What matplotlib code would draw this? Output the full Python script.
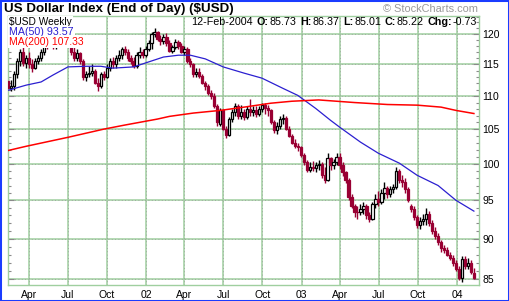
import numpy as np
import pandas as pd
import matplotlib
matplotlib.use("Agg")
import matplotlib.pyplot as plt
import matplotlib.dates as mdates
from matplotlib.ticker import FixedLocator, NullFormatter, FuncFormatter
from matplotlib.patches import Rectangle

plt.rcParams['font.family'] = ['Liberation Sans', 'DejaVu Sans']

# ---------------- data (weekly OHLC, $USD, Feb-2001 .. Feb-2004) ----------------
opens = [112.3, 111.3, 111.5, 113.5, 115.5, 117.0, 115.2, 116.0, 115.0, 114.5,
         115.5, 116.0, 117.0, 118.5, 118.2, 119.0, 118.0, 119.5, 119.0, 120.0,
         120.5, 119.5, 117.0, 116.0, 116.8, 115.5, 113.0, 113.5, 113.6, 114.0,
         112.0, 111.5, 113.5, 113.0, 114.5, 115.5, 115.0, 116.0, 116.5, 117.5,
         117.0, 116.0, 115.5, 114.8, 116.5, 117.0, 116.5, 117.5, 118.5, 120.0,
         120.3, 119.2, 118.8, 119.5, 118.5, 117.2, 117.8, 118.6, 118.0, 117.0,
         117.5, 115.5, 115.0, 113.5, 113.8, 113.2, 112.0, 111.5, 110.5, 110.0,
         108.5, 105.8, 107.8, 105.0, 104.2, 106.5, 107.5, 108.5, 107.0, 107.6,
         106.8, 108.0, 107.5, 107.8, 107.3, 108.0, 108.6, 108.2, 107.8, 106.0,
         104.8, 105.5, 106.5, 106.6, 105.0, 104.0, 103.0, 102.5, 102.4, 101.2,
         100.2, 99.2, 99.6, 99.4, 99.8, 100.0, 98.5, 97.8, 100.8, 99.8,
         100.3, 101.0, 99.8, 98.8, 97.8, 95.5, 94.2, 93.5, 93.4, 93.8,
         94.2, 93.0, 92.6, 94.5, 95.2, 94.8, 96.0, 96.6, 95.8, 96.5,
         96.8, 99.0, 97.8, 97.5, 96.5, 94.2, 93.8, 92.8, 91.8, 92.3,
         92.5, 93.2, 92.0, 91.0, 90.4, 89.6, 88.8, 88.6, 88.0, 87.6,
         87.0, 86.3, 85.2, 87.5, 86.6, 87.0, 85.73]
highs = [112.8, 112.5, 114.0, 116.0, 117.5, 117.8, 116.5, 117.0, 115.8, 116.0,
         116.5, 117.5, 118.8, 119.0, 119.5, 119.5, 120.0, 120.2, 120.5, 121.0,
         121.2, 119.8, 117.8, 117.5, 117.0, 115.8, 114.0, 114.8, 115.0, 114.2,
         112.8, 113.8, 114.0, 115.0, 116.0, 116.2, 116.5, 117.3, 117.8, 118.0,
         117.5, 116.5, 116.2, 117.0, 117.8, 117.5, 118.0, 119.0, 120.3, 121.0,
         120.5, 119.8, 120.0, 120.2, 119.0, 118.2, 119.2, 119.0, 118.5, 118.0,
         117.8, 116.0, 115.3, 114.5, 114.5, 113.5, 112.3, 111.8, 111.0, 110.5,
         108.8, 108.2, 108.0, 105.5, 106.8, 108.0, 109.0, 108.8, 108.6, 108.0,
         108.5, 109.6, 108.4, 108.5, 108.5, 109.0, 109.0, 108.6, 108.0, 106.3,
         106.0, 107.0, 107.2, 107.0, 105.5, 104.3, 103.5, 103.0, 102.6, 101.5,
         100.6, 100.2, 100.4, 100.2, 100.5, 100.2, 99.5, 101.5, 101.0, 100.7,
         101.5, 101.5, 100.2, 99.0, 98.0, 95.8, 94.5, 94.2, 94.5, 94.8,
         94.5, 93.4, 94.8, 95.8, 96.2, 96.5, 97.5, 97.0, 97.0, 97.2,
         99.5, 99.3, 98.4, 98.0, 96.8, 94.5, 94.2, 93.0, 92.8, 93.2,
         94.0, 93.6, 92.4, 91.5, 90.7, 89.9, 89.2, 89.0, 88.3, 88.0,
         87.3, 86.6, 87.8, 87.9, 87.6, 87.3, 86.37]
lows = [111.0, 110.8, 111.0, 112.8, 114.8, 114.8, 114.5, 114.5, 113.8, 114.2,
        115.0, 115.5, 116.5, 117.5, 117.8, 117.6, 117.5, 118.2, 118.5, 119.5,
        118.8, 116.5, 115.5, 115.5, 115.0, 112.5, 112.4, 113.0, 113.2, 111.8,
        110.8, 111.2, 112.5, 112.8, 114.0, 114.5, 114.5, 115.5, 115.8, 116.5,
        115.5, 115.0, 114.5, 114.5, 116.0, 116.0, 116.2, 117.2, 117.6, 119.5,
        118.8, 118.2, 118.3, 118.0, 117.0, 116.8, 117.5, 117.6, 116.8, 116.5,
        115.2, 114.6, 113.0, 113.0, 112.8, 111.8, 111.0, 110.2, 109.5, 108.2,
        105.5, 105.5, 104.8, 103.7, 104.0, 106.0, 107.0, 106.5, 106.5, 106.3,
        106.5, 107.0, 107.0, 106.8, 107.0, 107.5, 107.2, 107.0, 105.8, 104.5,
        104.3, 105.0, 105.8, 104.8, 103.8, 102.8, 102.2, 101.8, 101.0, 99.8,
        98.8, 98.8, 99.0, 98.9, 99.2, 98.0, 97.3, 97.6, 99.2, 99.3,
        99.8, 99.3, 98.3, 97.3, 95.0, 94.0, 92.8, 92.6, 93.0, 93.2,
        92.5, 92.2, 92.4, 94.0, 94.2, 94.5, 95.2, 95.3, 95.5, 96.0,
        96.5, 97.4, 96.8, 96.0, 94.8, 93.4, 92.4, 91.4, 91.3, 91.8,
        91.8, 91.6, 90.6, 90.0, 89.2, 88.4, 88.2, 87.8, 87.4, 86.6,
        86.0, 84.9, 84.7, 86.3, 86.3, 85.7, 85.01]
closes = [111.3, 111.5, 113.5, 115.5, 117.0, 115.2, 116.0, 115.0, 114.5, 115.5,
          116.0, 117.0, 118.5, 118.2, 119.0, 118.0, 119.5, 119.0, 120.0, 120.5,
          119.5, 117.0, 116.0, 116.8, 115.5, 113.0, 113.5, 113.6, 114.0, 112.0,
          111.5, 113.5, 113.0, 114.5, 115.5, 115.0, 116.0, 116.5, 117.5, 117.0,
          116.0, 115.5, 114.8, 116.5, 117.0, 116.5, 117.5, 118.5, 120.0, 120.3,
          119.2, 118.8, 119.5, 118.5, 117.2, 117.8, 118.6, 118.0, 117.0, 117.5,
          115.5, 115.0, 113.5, 113.8, 113.2, 112.0, 111.5, 110.5, 110.0, 108.5,
          106.0, 107.8, 105.0, 104.2, 106.5, 107.5, 108.5, 107.0, 107.6, 106.8,
          108.0, 107.5, 107.8, 107.3, 108.0, 108.6, 108.2, 107.8, 106.0, 104.8,
          105.5, 106.5, 106.6, 105.0, 104.0, 103.0, 102.5, 102.4, 101.2, 100.2,
          99.2, 99.6, 99.4, 99.8, 100.0, 98.5, 97.8, 100.8, 99.8, 100.3,
          101.0, 99.8, 98.8, 97.8, 95.5, 94.2, 93.5, 93.4, 93.8, 94.2,
          93.0, 92.6, 94.5, 95.2, 94.8, 96.0, 96.6, 95.8, 96.5, 96.8,
          99.0, 97.8, 97.5, 96.5, 95.0, 93.8, 92.8, 91.8, 92.3, 92.5,
          93.2, 92.0, 91.0, 90.4, 89.6, 88.8, 88.6, 88.0, 87.6, 87.0,
          86.3, 85.2, 87.5, 86.6, 87.0, 85.95, 85.22]

last_week = "2004-02-09"

# moving averages (week index -> value)
ma50_week = [0, 6, 11, 15, 20, 26, 31, 35, 42, 47, 52, 57, 61, 66, 72, 79, 85,
             92, 97, 103, 108, 111, 118, 124, 131, 137, 144, 150, 156]
ma50_val = [110.9, 111.7, 112.2, 113.3, 114.6, 114.7, 114.7, 114.4, 114.6, 115.4,
            116.2, 116.5, 116.5, 115.9, 114.6, 113.6, 112.8, 111.2, 110.1, 108.1,
            106.3, 105.3, 103.1, 101.5, 100.1, 98.4, 97.0, 95.0, 93.57]
ma200_week = [0, 6, 20, 32, 39, 50, 54, 62, 71, 79, 88, 95, 104, 110, 116, 127,
              137, 145, 150, 156]
ma200_val = [101.9, 102.5, 103.8, 105.0, 105.6, 106.5, 106.9, 107.4, 107.8, 108.3,
             108.9, 109.2, 109.4, 109.2, 109.0, 108.7, 108.6, 108.3, 107.8, 107.33]

y_ticks = [85, 90, 95, 100, 105, 110, 115, 120]
title = "US Dollar Index (End of Day) ($USD)"
header = [("12-Feb-2004", "normal"), ("O:", "bold"), ("85.73", "normal"),
          ("H:", "bold"), ("86.37", "normal"), ("L:", "bold"), ("85.01", "normal"),
          ("C:", "bold"), ("85.22", "normal"), ("Chg:", "bold"), ("-0.73", "normal")]
legend_lines = [("$USD Weekly", "black"), ("MA(50) 93.57", "#2b1fd0"),
                ("MA(200) 107.33", "#ff0000")]

# ---------------- layout ----------------
W, H = 509, 301
fig = plt.figure(figsize=(W / 100, H / 100), dpi=100)
fig.patch.set_facecolor("white")


def fx(px):
    return px / W


def fy(py):
    return 1 - py / H


L_, R_, T_, B_ = 7.5, 479.0, 16.0, 284.5
ax = fig.add_axes([fx(L_), fy(B_), fx(R_) - fx(L_), fy(T_) - fy(B_)])

n = len(closes)
dates = pd.date_range(end=last_week, periods=n, freq="7D")
xd = mdates.date2num(dates)

ref = mdates.date2num(pd.Timestamp("2002-01-01"))
ppd = 0.4264  # pixels per day
ax.set_xlim(ref - (146 - L_) / ppd, ref + (R_ - 146) / ppd)
ax.set_yscale("log")
ax.set_ylim(84.4, 123.1)

GREEN = "#9fcf9f"
DOT = "#9a9a9a"
RED = "#990033"

# grid
xt_dates = pd.date_range("2001-04-01", "2004-01-01", freq="QS-JAN")
for d in mdates.date2num(xt_dates):
    ax.axvline(d, color=GREEN, lw=1.1, zorder=0.5)
    ax.axvline(d, color=DOT, lw=0.6, ls=(0, (1, 3)), zorder=0.6)
for yv in y_ticks:
    ax.axhline(yv, color=GREEN, lw=1.1, zorder=0.5)
    ax.axhline(yv, color=DOT, lw=0.6, ls=(0, (1, 3)), zorder=0.6)

# candles
O = np.array(opens)
Hh = np.array(highs)
Ll = np.array(lows)
C = np.array(closes)
prev = np.concatenate([[O[0]], C[:-1]])
cols = np.where(C < prev, RED, "black")
fills = np.where(C < O, cols, "white")
ax.vlines(xd, Ll, Hh, colors=cols, lw=1.0, zorder=2)
ax.bar(xd, np.maximum(np.abs(C - O), 0.05), bottom=np.minimum(O, C), width=5.4,
       facecolor=fills, edgecolor=cols, linewidth=0.9, align="center", zorder=3)

# moving averages
ax.plot(xd[ma50_week], ma50_val, color="#2b1fd0", lw=0.9, zorder=4)
ax.plot(xd[ma200_week], ma200_val, color="#ff0000", lw=1.1, zorder=4)

# axes styling
for s in ax.spines.values():
    s.set_color(GREEN)
    s.set_linewidth(1.0)
ax.yaxis.set_major_locator(FixedLocator(y_ticks))
ax.yaxis.set_minor_locator(FixedLocator(list(range(85, 124))))
ax.yaxis.set_major_formatter(FuncFormatter(lambda v, p: f"{v:.0f}"))
ax.yaxis.set_minor_formatter(NullFormatter())
ax.tick_params(axis="y", which="both", left=True, right=True, labelleft=False,
               labelright=True, direction="in", color="#8a8a8a", width=0.8)
ax.tick_params(axis="y", which="major", length=4, pad=2.6, labelsize=7.5)
ax.tick_params(axis="y", which="minor", length=2.5)

ax.xaxis.set_major_locator(FixedLocator(mdates.date2num(xt_dates)))
ax.xaxis.set_major_formatter(FuncFormatter(
    lambda v, p: (mdates.num2date(v).strftime("%y") if mdates.num2date(v).month == 1
                  else mdates.num2date(v).strftime("%b"))))
ax.tick_params(axis="x", which="both", length=0, pad=4.2, labelsize=7.5)

# texts
t_title = fig.text(fx(3.5), fy(9.0), title, fontweight="bold", fontsize=10,
                   va="center", ha="left", parse_math=False)
t_copy = fig.text(fx(478), fy(8.6), "\u00a9 StockCharts.com", fontsize=8,
                  color="#9a9a9a", va="center", ha="right", parse_math=False)

leg_texts = []
leg_y = [22.0, 32.2, 42.2]
leg_w = [63.0, 64.0, 74.7]
for (s, c), yy in zip(legend_lines, leg_y):
    t = fig.text(fx(9.3), fy(yy), s, color=c, fontsize=7.5, va="center", ha="left",
                 parse_math=False, zorder=10,
                 bbox=dict(facecolor="white", edgecolor="none", pad=0.6))
    leg_texts.append(t)

fig.canvas.draw()
r = fig.canvas.get_renderer()


def fit(t, target):
    w = t.get_window_extent(r).width
    t.set_fontsize(t.get_fontsize() * target / w)


fit(t_title, 229.0)
fit(t_copy, 95.0)
for t, w in zip(leg_texts, leg_w):
    fit(t, w)

# header line with bold labels, right-aligned at x=477
hs = 7.6
gaps = [4.5, 1.0, 4.0, 1.0, 4.0, 1.0, 4.0, 1.0, 4.0, 1.0]
objs = []
for s, wgt in header:
    objs.append(fig.text(0, fy(22.0), s, fontsize=hs, fontweight=wgt,
                         va="center", ha="left", parse_math=False))
fig.canvas.draw()
widths = [o.get_window_extent(r).width for o in objs]
total = sum(widths) + sum(gaps)
scale = (477.0 - 190.7) / total
xpos = 190.7
for i, o in enumerate(objs):
    o.set_fontsize(hs * scale)
    o.set_x(fx(xpos))
    xpos += widths[i] * scale + (gaps[i] * scale if i < len(gaps) else 0)

fig.patches.append(Rectangle((0, 0), 1, 1, transform=fig.transFigure, fill=False,
                             edgecolor="#1a3cff", lw=2.2, zorder=20))

fig.savefig("out.png", dpi=100)
